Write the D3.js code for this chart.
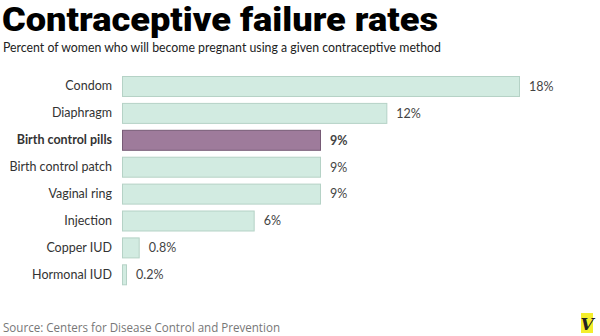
<!DOCTYPE html>
<html>
<head>
<meta charset="utf-8">
<script src="https://cdn.jsdelivr.net/npm/d3@7"></script>
<style>
  body { margin: 0; background: #fff; }
  svg { display: block; }
</style>
</head>
<body>
<div id="chart"></div>
<script>
// Chart data
const methods = ["Condom", "Diaphragm", "Birth control pills", "Birth control patch",
                 "Vaginal ring", "Injection", "Copper IUD", "Hormonal IUD"];
const rates = [18, 12, 9, 9, 9, 6, 0.8, 0.2];
const rateLabels = ["18%", "12%", "9%", "9%", "9%", "6%", "0.8%", "0.2%"];
const highlighted = "Birth control pills";

const width = 600, height = 336;
const margin = {top: 76, left: 122, right: 80, bottom: 50};

const svg = d3.select("#chart")
              .append("svg")
              .attr("width", width)
              .attr("height", height);

// Title and subtitle
svg.append("text")
   .attr("x", 2)
   .attr("y", 30.5)
   .attr("font-family", "Roboto, 'Liberation Sans', sans-serif")
   .attr("font-weight", 900)
   .attr("font-size", 32.5)
   .attr("textLength", 436)
   .attr("lengthAdjust", "spacingAndGlyphs")
   .attr("fill", "#000")
   .text("Contraceptive failure rates");

svg.append("text")
   .attr("x", 3)
   .attr("y", 52)
   .attr("font-family", "Lato, 'Open Sans', sans-serif")
   .attr("font-size", 13)
   .attr("textLength", 438)
   .attr("lengthAdjust", "spacingAndGlyphs")
   .attr("fill", "#222")
   .text("Percent of women who will become pregnant using a given contraceptive method");

// Scales
const x = d3.scaleLinear()
            .domain([0, 18])
            .range([margin.left, 520]);

const y = d3.scaleBand()
            .domain(methods)
            .range([76, 285.3])
            .paddingInner(0.22)
            .paddingOuter(0);

// Bars
svg.append("g")
   .selectAll("rect")
   .data(methods)
   .enter()
   .append("rect")
   .attr("x", x(0) + 0.5)
   .attr("y", (d) => y(d) + 0.5)
   .attr("width", (d, i) => Math.max(5, x(rates[i]) - x(0)) - 1)
   .attr("height", y.bandwidth() - 1)
   .attr("fill", (d) => d === highlighted ? "#9e7b9b" : "#d2ebe1")
   .attr("stroke", (d) => d === highlighted ? "#765a75" : "#b5d2c6")
   .attr("stroke-width", 1);

// Category labels (left axis without line)
const yAxis = svg.append("g")
   .attr("transform", "translate(" + (margin.left - 10) + ",0)")
   .call(d3.axisLeft(y).tickSize(0).tickPadding(0));
yAxis.select(".domain").remove();
yAxis.selectAll("text")
     .attr("font-family", "Lato, 'Open Sans', sans-serif")
     .attr("font-size", 12.5)
     .attr("fill", "#333")
     .attr("font-weight", (d) => d === highlighted ? "bold" : "normal");

// Value labels
svg.append("g")
   .selectAll("text")
   .data(methods)
   .enter()
   .append("text")
   .attr("x", (d, i) => Math.max(x(0) + 5, x(rates[i])) + 9)
   .attr("y", (d) => y(d) + y.bandwidth() / 2)
   .attr("dy", "0.35em")
   .attr("font-family", "Lato, 'Open Sans', sans-serif")
   .attr("font-size", 12.5)
   .attr("fill", "#444")
   .attr("font-weight", (d) => d === highlighted ? "bold" : "normal")
   .text((d, i) => rateLabels[i]);

// Source
svg.append("text")
   .attr("x", 3)
   .attr("y", 332)
   .attr("font-family", "'Open Sans', Lato, sans-serif")
   .attr("font-size", 13.5)
   .attr("textLength", 277)
   .attr("lengthAdjust", "spacingAndGlyphs")
   .attr("fill", "#777")
   .text("Source: Centers for Disease Control and Prevention");

// Logo
svg.append("rect")
   .attr("x", 581)
   .attr("y", 313)
   .attr("width", 12)
   .attr("height", 20)
   .attr("fill", "#f4ee2c");
svg.append("text")
   .attr("x", 587)
   .attr("y", 330)
   .attr("text-anchor", "middle")
   .attr("font-family", "'DejaVu Serif', serif")
   .attr("font-style", "italic")
   .attr("font-weight", "bold")
   .attr("font-size", 17)
   .attr("fill", "#222")
   .text("V");
</script>
</body>
</html>
